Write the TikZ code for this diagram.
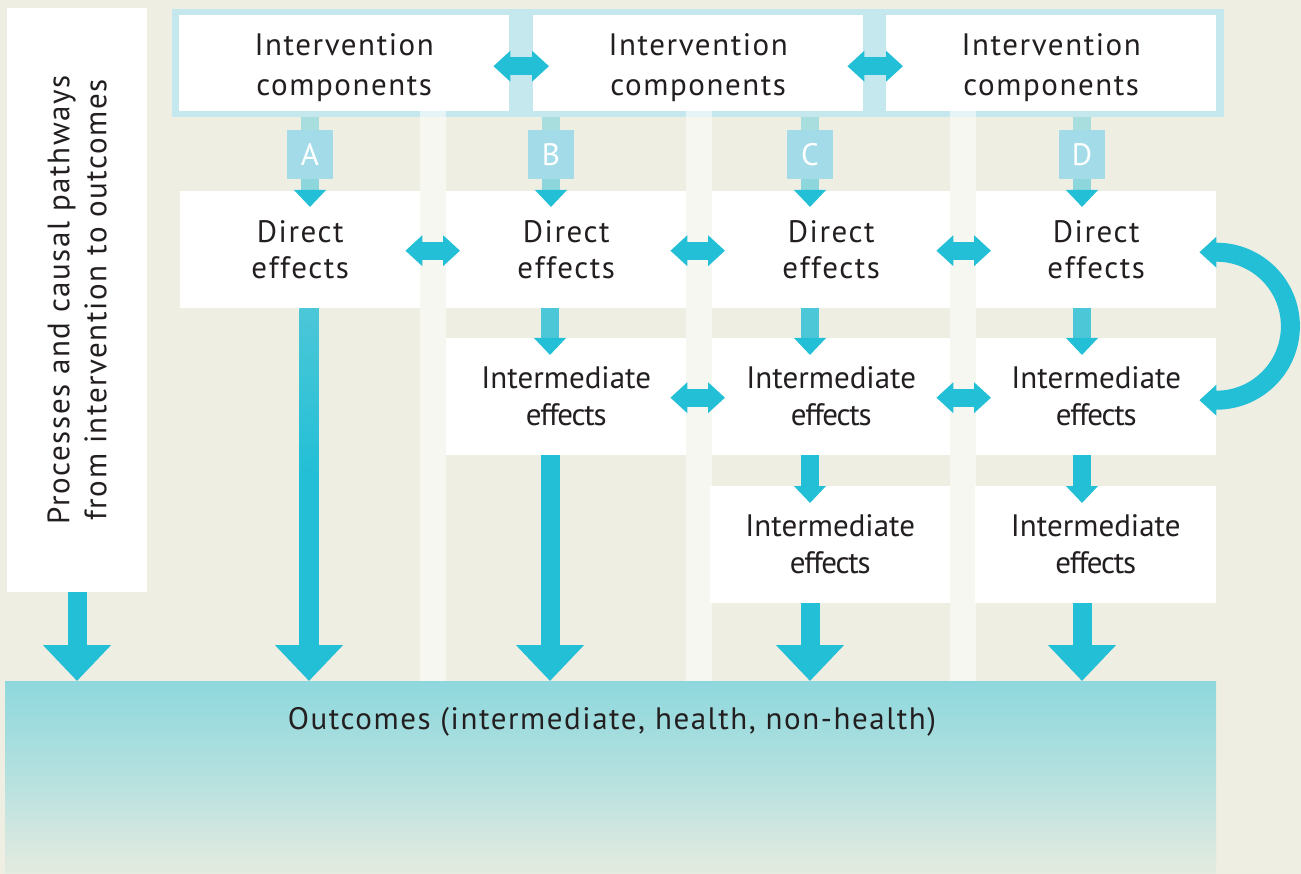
\documentclass[tikz,border=0pt]{standalone}
\usepackage{fontspec}
\setmainfont[LetterSpace=5]{PT Sans}
\newfontfamily\imedfont[LetterSpace=0]{PT Sans}
\newfontfamily\effxfont[LetterSpace=-4]{PT Sans}
\usetikzlibrary{arrows.meta,calc}
\definecolor{bg}{HTML}{EFEEE3}
\definecolor{framec}{HTML}{C5E8EF}
\definecolor{letc}{HTML}{A3DCE8}
\definecolor{cyanc}{HTML}{22BFD6}
\definecolor{shafttop}{HTML}{A9DEDF}
\definecolor{shaftmid}{HTML}{8DD6DC}
\definecolor{shaftlt}{HTML}{4CC7D8}
\definecolor{txt}{HTML}{231F20}
\definecolor{outtop}{HTML}{8ED8DD}
\definecolor{outbot}{HTML}{E5EBE0}
\newcommand{\imtext}{{\imedfont Intermediate}\\{\effxfont effects}}
\newcommand{\ictext}{\rule{0pt}{30pt}Intervention\\components}
\begin{document}
\begin{tikzpicture}[x=1pt,y=-1pt,
  font=\fontsize{31}{37}\selectfont,
  box/.style={fill=white, inner sep=0pt, align=center, text=txt, anchor=north west},
  ibox/.style={box, font=\fontsize{31}{40}\selectfont},
  dbox/.style={box, font=\fontsize{31}{35.5}\selectfont},
  mbox/.style={box, font=\fontsize{31}{37}\selectfont},
  letbox/.style={fill=letc, inner sep=0pt, text=white, minimum width=46pt, minimum height=49pt},
  strip/.style={fill=white, opacity=0.55},
  feed/.style={draw=shafttop, line width=18pt},
  smalltip/.style={draw=#1, line width=18pt, -{Triangle[width=31pt,length=17pt,color=cyanc,fill=cyanc]}},
  bigarrow/.style={draw=cyanc, line width=19pt, -{Triangle[width=66pt,length=36pt]}},
  twoway/.style={draw=cyanc, line width=18pt, {Triangle[width=30pt,length=17pt]}-{Triangle[width=30pt,length=17pt]}}
]
\useasboundingbox (0,0) rectangle (1301,874);
\fill[bg] (0,0) rectangle (1301,874);

% column anchors
\coordinate (cA) at (309,0);
\coordinate (cB) at (550,0);
\coordinate (cC) at (810,0);
\coordinate (cD) at (1082,0);

% left label box
\node[box, anchor=center, rotate=90, minimum width=584pt, minimum height=140pt,
      font=\fontsize{31}{37}\selectfont] (proc) at (77,300)
  {Processes and causal pathways\\from intervention to outcomes};

% top frame with intervention components
\node[fill=framec, anchor=north west, inner sep=0pt, minimum width=1052pt, minimum height=108pt] (frame) at (172,9) {};

% faint column strips
\fill[strip] (420,111) rectangle (446,681);
\fill[strip] (686,111) rectangle (712,681);
\fill[strip] (950,111) rectangle (976,681);

\node[ibox, minimum width=330pt, minimum height=96pt] (ic1) at (179,15) {\ictext};
\node[ibox, minimum width=330pt, minimum height=96pt] (ic2) at (533,15) {\ictext};
\node[ibox, minimum width=330pt, minimum height=96pt] (ic3) at (886,15) {\ictext};

% direct effects
\node[dbox, minimum width=240pt, minimum height=117pt] (dA) at (180,191) {Direct\\effects};
\node[dbox, minimum width=240pt, minimum height=117pt] (dB) at (446,191) {Direct\\effects};
\node[dbox, minimum width=238pt, minimum height=117pt] (dC) at (712,191) {Direct\\effects};
\node[dbox, minimum width=240pt, minimum height=117pt] (dD) at (976,191) {Direct\\effects};

% intermediate effects row 2
\node[mbox, minimum width=240pt, minimum height=117pt] (iB) at (446,338) {\imtext};
\node[mbox, minimum width=238pt, minimum height=117pt] (iC) at (712,338) {\imtext};
\node[mbox, minimum width=240pt, minimum height=117pt] (iD) at (976,338) {\imtext};

% intermediate effects row 3
\node[mbox, minimum width=240pt, minimum height=117pt] (jC) at (710,486) {\imtext};
\node[mbox, minimum width=241pt, minimum height=117pt] (jD) at (975,486) {\imtext};

% outcomes
\node[anchor=north west, inner sep=0pt, minimum width=1211pt, minimum height=193pt,
      top color=outtop, bottom color=outbot, middle color=outtop!55!outbot] (out) at (5,681) {};
\node[text=txt, anchor=center, inner sep=0pt] (outtxt) at (612,722) {Outcomes (intermediate, health, non-health)};

% letter boxes
\node[letbox] (lA) at (310,154.5) {A};
\node[letbox] (lB) at (551,154.5) {B};
\node[letbox] (lC) at (810,154.5) {C};
\node[letbox] (lD) at (1082,154.5) {D};

% feeds from components to letters
\foreach \l in {A,B,C,D}{
  \draw[feed] (frame.south -| l\l) -- (l\l.north);
  \draw[smalltip=shaftmid] (l\l.south) -- ($(d\l.north -| l\l)+(0,16)$);
}

% direct -> intermediate
\draw[smalltip=shaftlt] (dB.south -| cB) -- ($(iB.north -| cB)+(0,17)$);
\draw[smalltip=shaftlt] (dC.south -| cC) -- ($(iC.north -| cC)+(0,17)$);
\draw[smalltip=shaftlt] (dD.south -| cD) -- ($(iD.north -| cD)+(0,17)$);
% intermediate -> intermediate
\draw[smalltip=cyanc] (iC.south -| cC) -- ($(jC.north -| cC)+(0,17)$);
\draw[smalltip=cyanc] (iD.south -| cD) -- ($(jD.north -| cD)+(0,17)$);

% into outcomes
\draw[bigarrow] (proc.west) -- (out.north -| proc.west);
\draw[bigarrow] (dA.south -| cA) -- (out.north -| cA);
\shade[top color=shaftlt, bottom color=cyanc, middle color=cyanc]
   ($(dA.south -| cA)+(-9.6,0)$) rectangle ($(out.north -| cA)+(9.6,-36)$);
\draw[bigarrow] (iB.south -| cB) -- (out.north -| cB);
\draw[bigarrow] (jC.south -| cC) -- (out.north -| cC);
\draw[bigarrow] (jD.south -| cD) -- (out.north -| cD);

% two-way arrows
\draw[twoway] ($(ic1.east)+(-16,3)$) -- ($(ic2.west)+(16,3)$);
\draw[twoway] ($(ic2.east)+(-16,3)$) -- ($(ic3.west)+(17,3)$);
\draw[twoway] ($(dA.east)+(-15,1)$) -- ($(dB.west)+(14,1)$);
\draw[twoway] ($(dB.east)+(-16,1)$) -- ($(dC.west)+(13,1)$);
\draw[twoway] ($(dC.east)+(-14,1)$) -- ($(dD.west)+(15,1)$);
\draw[twoway] ($(iB.east)+(-16,1)$) -- ($(iC.west)+(13,1)$);
\draw[twoway] ($(iC.east)+(-14,1)$) -- ($(iD.west)+(15,1)$);

% curved arrow between direct and intermediate D
\draw[twoway, line width=19pt] ($(dD.east)+(-17,2.5)$) -- ($(dD.east)+(0,2.5)$)
   arc[start angle=-90, end angle=90, radius=74] -- ($(iD.east)+(-17,3.5)$);
\end{tikzpicture}
\end{document}
